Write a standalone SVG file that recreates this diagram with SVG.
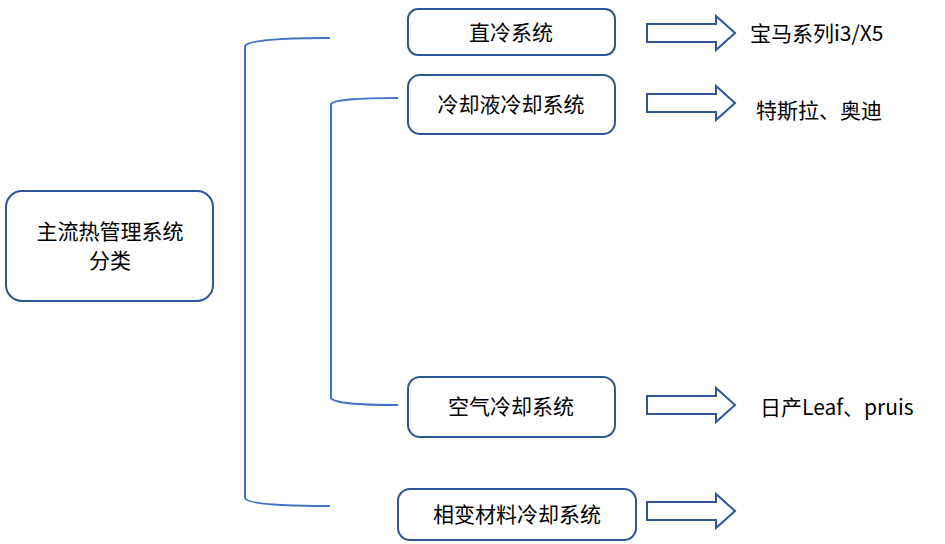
<svg xmlns="http://www.w3.org/2000/svg" width="945" height="544" viewBox="0 0 945 544">
<style>
.box{fill:#fff;stroke:#2F5597;stroke-width:2}
.t{font-family:"Noto Sans CJK SC",sans-serif;font-size:21px;fill:#000;text-anchor:middle}
.l{font-family:"Noto Sans CJK SC",sans-serif;font-size:21px;fill:#000}
.br{fill:none;stroke:#4472C4;stroke-width:2}
.ar{fill:#fff;stroke:#2F5597;stroke-width:2}
</style>
<rect width="945" height="544" fill="#fff"/>
<g id="connectors">
<path class="br" d="M330,38 Q250,38 245,46 L245,498 Q248,506 330,506"/>
<path class="br" d="M398,98 Q335,98 331,104 L331,398 Q334,405 398,405"/>
<polygon class="ar" points="647,24 716,24 716,16 735,33 716,50 716,42 647,42"/>
<polygon class="ar" points="647,94 716,94 716,86 735,103 716,120 716,112 647,112"/>
<polygon class="ar" points="647,396 716,396 716,388 735,405 716,422 716,414 647,414"/>
<polygon class="ar" points="647,502 716,502 716,494 735,511 716,528 716,520 647,520"/>
</g>
<g id="main"><rect class="box" x="6" y="191" width="207" height="110" rx="16"/><text class="t" x="110" y="239">主流热管理系统</text><text class="t" x="110" y="268">分类</text></g>
<g id="n1"><rect class="box" x="408" y="9" width="207" height="46" rx="10"/><text class="t" x="511" y="40">直冷系统</text></g>
<g id="n2"><rect class="box" x="408" y="75" width="207" height="59" rx="12"/><text class="t" x="511" y="112">冷却液冷却系统</text></g>
<g id="n3"><rect class="box" x="408" y="377" width="207" height="60" rx="12"/><text class="t" x="511" y="414">空气冷却系统</text></g>
<g id="n4"><rect class="box" x="398" y="489" width="238" height="51" rx="12"/><text class="t" x="517" y="522">相变材料冷却系统</text></g>
<g id="labels">
<text class="l" x="750" y="41">宝马系列i3/X5</text>
<text class="l" x="756" y="118">特斯拉、奥迪</text>
<text class="l" x="760" y="415">日产Leaf、pruis</text>
</g>
</svg>
